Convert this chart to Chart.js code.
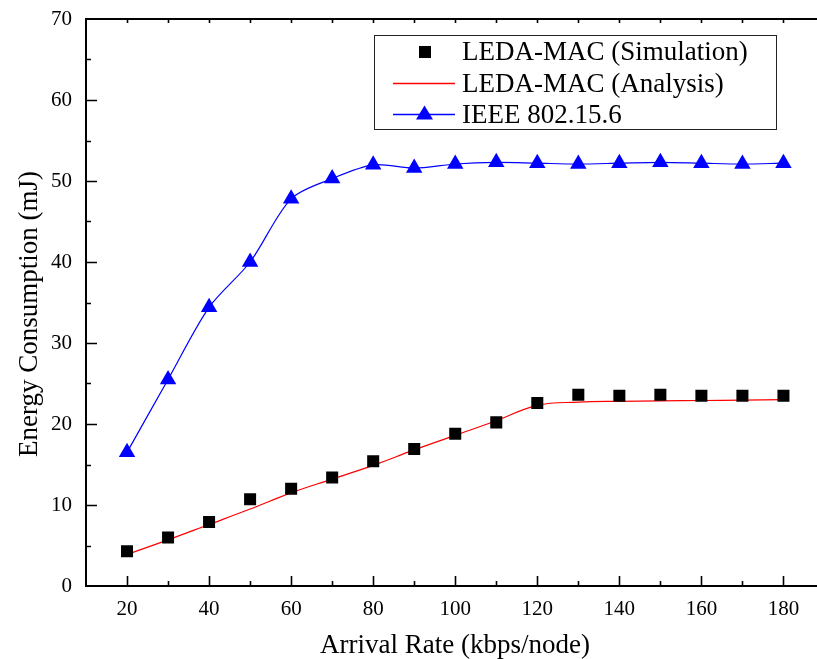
<html>
<head>
    <title>Energy Consumption</title>
    <script src="https://cdn.jsdelivr.net/npm/chart.js@4.4.0/dist/chart.umd.min.js"></script>
    <style>
        body { margin: 0; background: #fff; overflow: hidden; }
        #wrap { width: 817px; height: 659px; overflow: hidden; }
    </style>
</head>
<body>
    <div id="wrap"><canvas id="myChart" width="827" height="659"></canvas></div>
<script>
    // arrival rate (kbps/node)
    var rates = [20, 30, 40, 50, 60, 70, 80, 90, 100, 110, 120, 130, 140, 150, 160, 170, 180];
    // energy consumption (mJ)
    var simEnergy = [4.3, 6.0, 7.9, 10.7, 12.0, 13.4, 15.4, 16.9, 18.8, 20.2, 22.6, 23.6, 23.5, 23.6, 23.5, 23.5, 23.5];
    var analysisEnergy = [3.9, 5.7, 7.6, 9.5, 11.5, 13.2, 14.9, 16.8, 18.6, 20.4, 22.3, 22.7, 22.8, 22.85, 22.9, 22.95, 23.0];
    var ieeeEnergy = [16.5, 25.5, 34.4, 40.0, 47.8, 50.3, 52.0, 51.6, 52.1, 52.3, 52.2, 52.1, 52.2, 52.3, 52.2, 52.1, 52.2];
    var seriesNames = ['LEDA-MAC (Simulation)', 'LEDA-MAC (Analysis)', 'IEEE 802.15.6'];
    var xTitle = 'Arrival Rate (kbps/node)';
    var yTitle = 'Energy Consumption (mJ)';

    var FONT = '"Liberation Serif", "Times New Roman", serif';

    function pts(ys) {
        return rates.map(function (x, i) { return { x: x, y: ys[i] }; });
    }

    // inward ticks, top frame line, axis titles and the boxed legend
    var framePlugin = {
        id: 'frame',
        beforeDatasetsDraw: function (chart) {
            var ctx = chart.ctx, a = chart.chartArea;
            var xs = chart.scales.x, ys = chart.scales.y;
            ctx.save();
            ctx.strokeStyle = '#000';
            ctx.lineWidth = 2;
            ctx.beginPath();
            ctx.moveTo(a.left - 1, a.top);
            ctx.lineTo(a.right, a.top);
            ctx.stroke();
            ctx.lineWidth = 1.6;
            ctx.beginPath();
            for (var v = 20; v <= 190; v += 10) {
                var px = Math.round(xs.getPixelForValue(v)) + 0.5;
                if (px > a.right) break;
                var len = (v % 20 === 0) ? 10 : 5;
                ctx.moveTo(px, a.bottom);
                ctx.lineTo(px, a.bottom - len);
                ctx.moveTo(px, a.top);
                ctx.lineTo(px, a.top + 4);
            }
            for (var w = 5; w < 70; w += 5) {
                var py = Math.round(ys.getPixelForValue(w)) + 0.5;
                var l2 = (w % 10 === 0) ? 11 : 5;
                ctx.moveTo(a.left, py);
                ctx.lineTo(a.left + l2, py);
            }
            ctx.stroke();

            // axis titles
            ctx.fillStyle = '#000';
            ctx.font = '27px ' + FONT;
            ctx.textAlign = 'center';
            ctx.textBaseline = 'alphabetic';
            ctx.fillText(xTitle, 455, 653);
            ctx.translate(37, 314);
            ctx.rotate(-Math.PI / 2);
            ctx.fillText(yTitle, 0, 0);
            ctx.restore();
        },
        afterDraw: function (chart) {
            var ctx = chart.ctx;
            ctx.save();
            ctx.fillStyle = '#fff';
            ctx.fillRect(374, 35, 402, 94);
            ctx.strokeStyle = '#222';
            ctx.lineWidth = 1;
            ctx.strokeRect(374.5, 35.5, 402, 94);

            // row 1: square
            ctx.fillStyle = '#000';
            ctx.fillRect(419, 46, 12, 12);
            // row 2: red line
            ctx.lineWidth = 1.3;
            ctx.strokeStyle = '#ff0000';
            ctx.beginPath();
            ctx.moveTo(393, 83.5);
            ctx.lineTo(455, 83.5);
            ctx.stroke();
            // row 3: blue line + triangle
            ctx.strokeStyle = '#0000ff';
            ctx.beginPath();
            ctx.moveTo(393, 114.5);
            ctx.lineTo(455, 114.5);
            ctx.stroke();
            ctx.fillStyle = '#0000ff';
            ctx.beginPath();
            ctx.moveTo(424.5, 105.5);
            ctx.lineTo(433, 119.5);
            ctx.lineTo(416, 119.5);
            ctx.closePath();
            ctx.fill();

            ctx.fillStyle = '#000';
            ctx.font = '27px ' + FONT;
            ctx.textAlign = 'left';
            ctx.textBaseline = 'alphabetic';
            ctx.fillText(seriesNames[0], 462, 60);
            ctx.fillText(seriesNames[1], 462, 91.5);
            ctx.fillText(seriesNames[2], 462, 123);
            ctx.restore();
        }
    };

    var ctx = document.getElementById('myChart').getContext('2d');
    var chart = new Chart(ctx, {
        type: 'scatter',
        data: {
            datasets: [{
                label: seriesNames[0],
                data: pts(simEnergy),
                showLine: false,
                pointStyle: 'rect',
                pointRadius: 8.5,
                pointHoverRadius: 8.5,
                pointBorderWidth: 0,
                backgroundColor: '#000',
                borderColor: '#000',
                order: 0
            }, {
                label: seriesNames[1],
                data: pts(analysisEnergy),
                showLine: true,
                pointRadius: 0,
                borderColor: '#ff0000',
                borderWidth: 1.2,
                tension: 0.4,
                order: 1
            }, {
                label: seriesNames[2],
                data: pts(ieeeEnergy),
                showLine: true,
                pointStyle: 'triangle',
                pointRadius: 9.5,
                pointHoverRadius: 9.5,
                pointBorderWidth: 0,
                backgroundColor: '#0000ff',
                borderColor: '#0000ff',
                borderWidth: 1.2,
                tension: 0.3,
                order: 2
            }]
        },
        options: {
            responsive: false,
            animation: false,
            layout: { padding: { top: 19, right: 0, bottom: 0, left: 0 } },
            plugins: {
                legend: { display: false },
                tooltip: { enabled: false }
            },
            scales: {
                x: {
                    type: 'linear',
                    min: 10,
                    max: 188.3,
                    grid: { display: false, drawTicks: false },
                    border: { display: true, color: '#000', width: 2 },
                    afterFit: function (s) { s.height = 73; s.paddingRight = 0; s.paddingLeft = 0; },
                    ticks: {
                        stepSize: 10,
                        includeBounds: false,
                        autoSkip: false,
                        maxRotation: 0,
                        padding: 11,
                        color: '#000',
                        font: { family: FONT, size: 21 },
                        callback: function (v) { return (v % 20 === 0) ? String(v) : ''; }
                    }
                },
                y: {
                    min: 0,
                    max: 70,
                    grid: { display: false, drawTicks: false },
                    border: { display: true, color: '#000', width: 2 },
                    afterFit: function (s) { s.width = 86; s.paddingTop = 0; s.paddingBottom = 0; },
                    ticks: {
                        stepSize: 10,
                        padding: 14,
                        color: '#000',
                        font: { family: FONT, size: 21 }
                    }
                }
            }
        },
        plugins: [framePlugin]
    });
</script>
</body>
</html>
